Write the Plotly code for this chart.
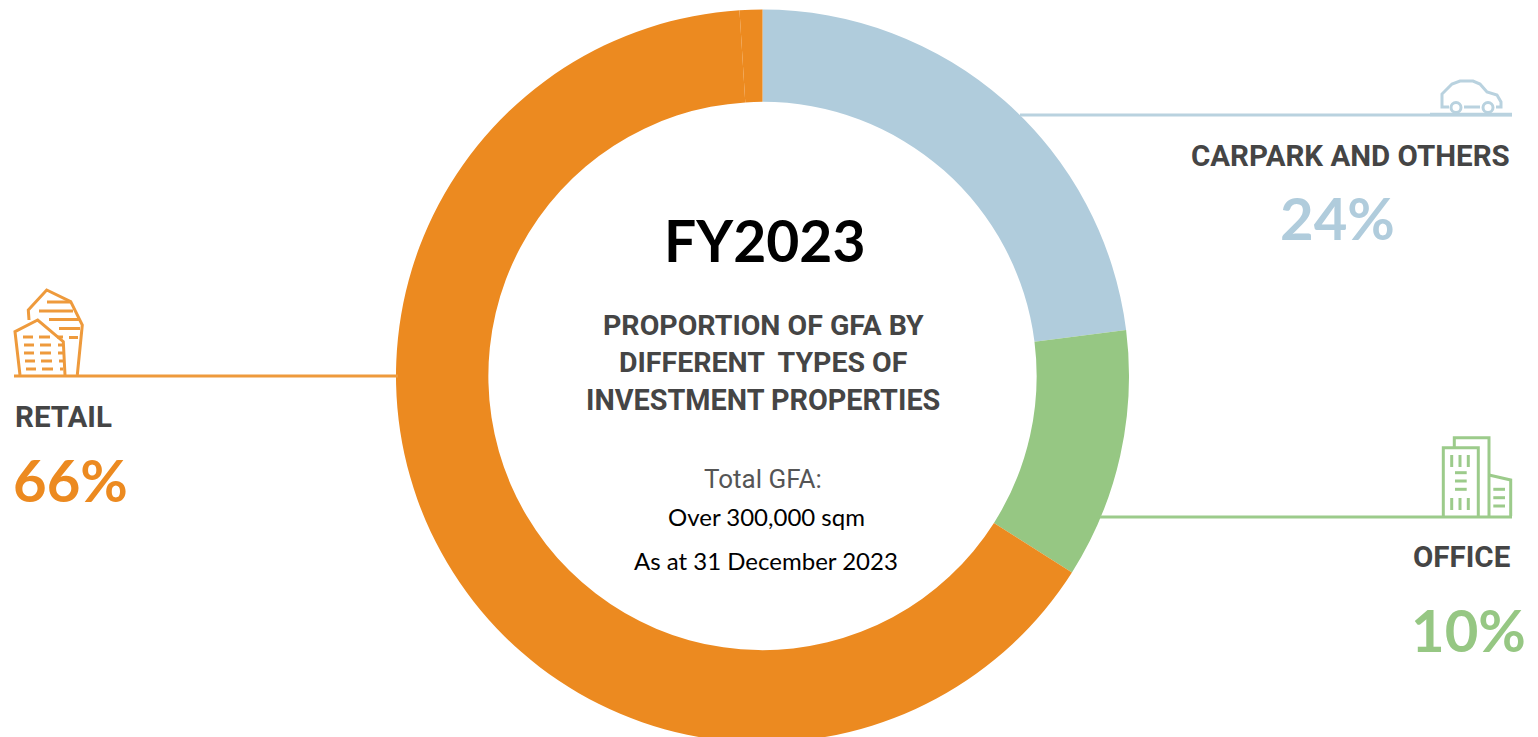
import plotly.graph_objects as go

# Slice shares (the retail ring carries a faint seam near the top)
slice_names = ["Carpark and others", "Office", "Retail", "Retail (seam part)"]
slice_values = [23, 11, 65, 1]
slice_colors = ["#B0CCDC", "#96C783", "#EC8A20", "#EC8A20"]

BLUE, GREEN, ORANGE = "#B9D2DF", "#9CCB8B", "#EE9A3C"
GREY = "#454545"
W, H = 1538, 752
CX, CY, R = 762.5, 376, 366.5


def fx(x):
    return x / W


def fy(y):
    return 1 - y / H


def path(points, close=False):
    s = "M " + " L ".join(f"{fx(x):.5f},{fy(y):.5f}" for x, y in points)
    return s + (" Z" if close else "")


shapes = []


def stroke(points, color, width=3, close=False):
    shapes.append(dict(type="path", xref="paper", yref="paper", path=path(points, close),
                       line=dict(color=color, width=width)))


def seg(x0, y0, x1, y1, color, width=3):
    stroke([(x0, y0), (x1, y1)], color, width)


def circle(x, y, r, color, width=3):
    shapes.append(dict(type="circle", xref="paper", yref="paper", x0=fx(x - r), x1=fx(x + r),
                       y0=fy(y + r), y1=fy(y - r), line=dict(color=color, width=width),
                       fillcolor="white"))


# leader lines
seg(1020, 115, 1512, 115, BLUE, 3)
seg(14, 376, 398, 376, ORANGE, 3)
seg(1100, 517, 1512, 517, GREEN, 3)

# car icon
stroke([(1449, 107), (1442, 107), (1442, 94), (1452, 84), (1460, 81), (1473, 81), (1480, 84),
        (1487, 92), (1497, 95), (1501, 102), (1501, 107), (1496, 107)], BLUE)
seg(1464, 107, 1480, 107, BLUE)
circle(1456, 107.5, 5, BLUE)
circle(1488, 107.5, 5, BLUE)
seg(1430, 114.5, 1512, 114.5, BLUE, 3.5)

# retail icon
stroke([(29, 320), (28.3, 310), (46.7, 290), (70.7, 301.7), (82.3, 325), (77.3, 375)], ORANGE)
stroke([(20, 375), (15, 331.7), (37.7, 320), (63.3, 341.7), (65, 375)], ORANGE)
for y, a, b in [(302, 47, 71), (311, 39, 73), (319.5, 49, 79), (328.5, 59, 80), (337.5, 69, 78)]:
    seg(a, y, b, y, ORANGE)
for y, dx in [(337, 0), (345, 1), (353, 1), (361, 2), (369, 3)]:
    seg(23 + dx, y, 33 + dx, y, ORANGE)
    seg(39 + dx, y, 50 + dx, y, ORANGE)
    seg(57 + dx, y, 63, y, ORANGE)

# office icon
stroke([(1443.3, 516), (1443.3, 447.7), (1478.3, 447.7), (1478.3, 516)], GREEN)
stroke([(1454.3, 447.7), (1454.3, 437.7), (1489, 437.7), (1489, 516)], GREEN)
stroke([(1489, 475), (1510.7, 480), (1510.7, 516)], GREEN)
for x in (1451.7, 1460, 1468.3):
    seg(x, 455, x, 467, GREEN, 3)
    seg(x, 498, x, 510, GREEN, 3)
for y in (472.7, 481, 489.3):
    seg(1455, y, 1466.7, y, GREEN, 3)
for y in (489.3, 497.7, 506):
    seg(1493.3, y, 1505, y, GREEN, 3)


def label(x, y, text, size, color, family, anchor="center", bold=False):
    t = f"<b>{text}</b>" if bold else text
    return dict(xref="paper", yref="paper", x=fx(x), y=fy(y), text=t, showarrow=False,
                xanchor=anchor, yanchor="middle", font=dict(size=size, color=color, family=family))


annotations = [
    label(764, 240, "FY2023", 57, "#000000", "Lato", bold=True),
    label(763, 325, "PROPORTION OF GFA BY", 28.5, GREY, "Roboto", bold=True),
    label(763, 362, "DIFFERENT  TYPES OF", 28.5, GREY, "Roboto", bold=True),
    label(763, 400, "INVESTMENT PROPERTIES", 28.8, GREY, "Roboto", bold=True),
    label(763, 479, "Total GFA:", 26, "#555555", "Roboto"),
    label(766, 516, "Over 300,000 sqm", 24, "#000000", "Lato"),
    label(766, 560, "As at 31 December 2023", 24, "#000000", "Lato"),
    label(1512, 156, "CARPARK AND OTHERS", 29.5, GREY, "Roboto", "right", True),
    label(1337, 217, "24%", 58, "#B0CCDC", "Lato", bold=True),
    label(13, 417, "RETAIL", 29.5, GREY, "Roboto", "left", True),
    label(11, 479, "66%", 58, "#EC8A20", "Lato", "left", True),
    label(1512, 557, "OFFICE", 29.5, GREY, "Roboto", "right", True),
    label(1528, 629, "10%", 58, "#96C783", "Lato", "right", True),
]

fig = go.Figure(go.Pie(
    labels=slice_names,
    values=slice_values,
    hole=0.748,
    sort=False,
    direction="clockwise",
    rotation=0,
    marker=dict(colors=slice_colors, line=dict(width=0)),
    textinfo="none",
    showlegend=False,
    domain=dict(x=[fx(CX - R), fx(CX + R)], y=[fy(CY + R), fy(CY - R)]),
))
fig.update_layout(
    width=W, height=H,
    margin=dict(l=0, r=0, t=0, b=0),
    paper_bgcolor="white",
    plot_bgcolor="white",
    shapes=shapes,
    annotations=annotations,
)
fig.write_html("out.html", config=dict(displayModeBar=False),
               post_script="document.body.style.margin='0';document.body.style.overflow='hidden';")
